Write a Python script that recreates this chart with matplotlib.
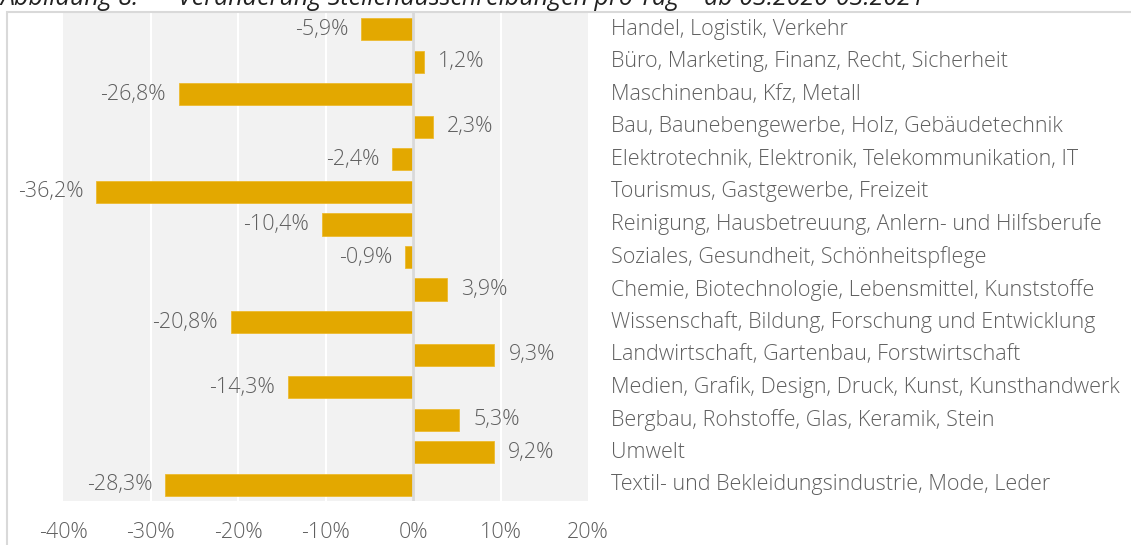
#!/usr/bin/env python3

import matplotlib.pyplot as plt
from matplotlib.patches import Rectangle

categories = [
    "Handel, Logistik, Verkehr",
    "Büro, Marketing, Finanz, Recht, Sicherheit",
    "Maschinenbau, Kfz, Metall",
    "Bau, Baunebengewerbe, Holz, Gebäudetechnik",
    "Elektrotechnik, Elektronik, Telekommunikation, IT",
    "Tourismus, Gastgewerbe, Freizeit",
    "Reinigung, Hausbetreuung, Anlern- und Hilfsberufe",
    "Soziales, Gesundheit, Schönheitspflege",
    "Chemie, Biotechnologie, Lebensmittel, Kunststoffe",
    "Wissenschaft, Bildung, Forschung und Entwicklung",
    "Landwirtschaft, Gartenbau, Forstwirtschaft",
    "Medien, Grafik, Design, Druck, Kunst, Kunsthandwerk",
    "Bergbau, Rohstoffe, Glas, Keramik, Stein",
    "Umwelt",
    "Textil- und Bekleidungsindustrie, Mode, Leder",
]
changes = [-5.9, 1.2, -26.8, 2.3, -2.4, -36.2, -10.4, -0.9, 3.9, -20.8, 9.3, -14.3, 5.3, 9.2, -28.3]
x_ticks = [-40, -30, -20, -10, 0, 10, 20]

fig_label = "Abbildung 8:"
title = "Veränderung Stellenausschreibungen pro Tag – ab 03.2020-03.2021"

BAR = "#E3A800"
TEXT = "#5f5f5f"
FONT = "Open Sans"
FS = 15.5

W, H = 1131, 545
fig = plt.figure(figsize=(W / 100, H / 100), dpi=100)

# outer chart frame (runs off the right/bottom edge like the screenshot)
fig.patches.append(Rectangle((7 / W, -0.1), 1.2, 1 - 12 / H + 0.1, transform=fig.transFigure,
                             fill=False, edgecolor="#D9D9D9", linewidth=1.5))

ax = fig.add_axes([63 / W, 1 - 501 / H, (588 - 63) / W, (501 - 13) / H])
ax.set_facecolor("#F2F2F2")

y = list(range(len(categories)))
ax.barh(y, changes, height=0.68, color=BAR, edgecolor="#EDBB30", linewidth=0.6, zorder=3)
ax.set_xlim(-40, 20)
ax.set_ylim(len(categories) - 0.5, -0.5)

for x in x_ticks[1:-1]:
    ax.axvline(x, color="white", linewidth=1.5, zorder=1)
ax.axvline(0, color="#D9D9D9", linewidth=2, zorder=4)

txt = dict(color=TEXT, fontsize=FS, family=FONT, fontweight="light")
for yi, v in zip(y, changes):
    lbl = f"{v:.1f}%".replace(".", ",")
    off = -13 if v < 0 else 14
    ax.annotate(lbl, (v, yi), xytext=(off, 0), textcoords="offset pixels",
                ha="right" if v < 0 else "left", va="center", **txt)
    ax.annotate(categories[yi], (1, yi), xycoords=("axes fraction", "data"),
                xytext=(23, 0), textcoords="offset pixels", ha="left", va="center",
                annotation_clip=False, **txt)

ax.set_xticks(x_ticks)
ax.set_xticklabels([f"{t}%" for t in x_ticks], **txt)
ax.tick_params(axis="x", length=0, pad=15)
ax.set_yticks([])
for s in ax.spines.values():
    s.set_visible(False)

# title sits mostly above the visible area, as in the cropped original
for tx, s in [(0.0, fig_label), (178 / W, title)]:
    fig.text(tx, 1 - 5 / H, s, ha="left", va="baseline", fontsize=18,
             style="italic", family=FONT, color="#222222")

fig.savefig("out.png", dpi=100)
